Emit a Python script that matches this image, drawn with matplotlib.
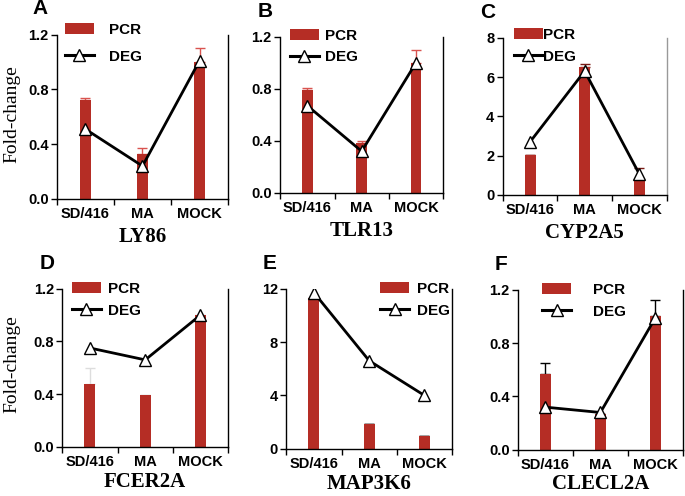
import matplotlib
matplotlib.use("Agg")
import matplotlib.pyplot as plt
from matplotlib.patches import Patch
from matplotlib.lines import Line2D

categories = ["SD/416", "MA", "MOCK"]

genes = ["LY86", "TLR13", "CYP2A5", "FCER2A", "MAP3K6", "CLECL2A"]
letters = ["A", "B", "C", "D", "E", "F"]

pcr_ly86 = [0.72, 0.33, 1.00]
err_ly86 = [0.02, 0.04, 0.10]
deg_ly86 = [0.51, 0.24, 1.01]

pcr_tlr13 = [0.79, 0.38, 1.00]
err_tlr13 = [0.015, 0.02, 0.10]
deg_tlr13 = [0.67, 0.32, 1.00]

pcr_cyp2a5 = [2.05, 6.50, 0.82]
err_cyp2a5 = [0.0, 0.15, 0.55]
deg_cyp2a5 = [2.70, 6.30, 1.07]

pcr_fcer2a = [0.48, 0.39, 1.00]
err_fcer2a = [0.12, 0.0, 0.0]
deg_fcer2a = [0.75, 0.66, 1.00]

pcr_map3k6 = [11.3, 1.85, 1.0]
err_map3k6 = [0.0, 0.0, 0.0]
deg_map3k6 = [11.7, 6.6, 4.0]

pcr_clecl2a = [0.57, 0.27, 1.00]
err_clecl2a = [0.08, 0.0, 0.12]
deg_clecl2a = [0.32, 0.28, 0.99]

pcr_all = [pcr_ly86, pcr_tlr13, pcr_cyp2a5, pcr_fcer2a, pcr_map3k6, pcr_clecl2a]
err_all = [err_ly86, err_tlr13, err_cyp2a5, err_fcer2a, err_map3k6, err_clecl2a]
deg_all = [deg_ly86, deg_tlr13, deg_cyp2a5, deg_fcer2a, deg_map3k6, deg_clecl2a]

y_max = [1.2, 1.2, 8, 1.2, 12, 1.2]
y_ticks = [[0.0, 0.4, 0.8, 1.2], [0.0, 0.4, 0.8, 1.2], [0, 2, 4, 6, 8],
           [0.0, 0.4, 0.8, 1.2], [0, 4, 8, 12], [0.0, 0.4, 0.8, 1.2]]
y_fmt = ["{:.1f}", "{:.1f}", "{:.0f}", "{:.1f}", "{:.0f}", "{:.1f}"]

# panel boxes in figure fraction: left, bottom, width, height
boxes = [
    (0.083, 0.599, 0.250, 0.331),
    (0.409, 0.611, 0.238, 0.315),
    (0.734, 0.607, 0.239, 0.317),
    (0.091, 0.099, 0.242, 0.319),
    (0.418, 0.095, 0.242, 0.323),
    (0.756, 0.093, 0.241, 0.323),
]
err_colors = ["#d9534f", "#d9534f", "#7a1a14", "#dddddd", "black", "black"]
right_colors = ["black", "black", "#999999", "black", "black", "black"]
legend_anchor = [(0.01, 1.11), (0.02, 1.09), (0.03, 1.10), (0.02, 1.08), (0.53, 1.08), (0.11, 1.08)]
legend_gap = [1.0, 0.4, 0.0, 0.5, 0.5, 1.4]
legend_spacing = [0.85, 0.5, 0.5, 0.5, 0.5, 0.5]
title_pad = [4, 4, 4, 2, 2, 1]

BAR = "#b52d25"
TICK_FONT = dict(family="Liberation Sans", weight="bold", size=10.5)

fig = plt.figure(figsize=(6.85, 4.96), dpi=100)

for i in range(6):
    ax = fig.add_axes(boxes[i])
    x = [0.5, 1.5, 2.5]
    ax.bar(x, pcr_all[i], width=0.2, color=BAR, zorder=2)
    ax.errorbar(x, pcr_all[i], yerr=[[0, 0, 0], err_all[i]], fmt="none",
                ecolor=err_colors[i], elinewidth=1, capsize=3.5, capthick=1, zorder=1)
    ax.plot(x, deg_all[i], color="black", linewidth=2, marker="^", markersize=9,
            markerfacecolor="white", markeredgecolor="black", markeredgewidth=1, zorder=3)

    ax.set_xlim(0, 3)
    ax.set_ylim(0, y_max[i])
    ax.set_xticks([0, 1, 2, 3])
    ax.set_xticklabels([])
    ax.set_xticks(x, minor=True)
    ax.set_xticklabels(categories, minor=True, fontdict=TICK_FONT)
    ax.tick_params(axis="x", which="minor", length=0, pad=6)
    ax.tick_params(axis="x", which="major", length=4, width=1)
    ax.set_yticks(y_ticks[i])
    ax.set_yticklabels([y_fmt[i].format(v) for v in y_ticks[i]], fontdict=TICK_FONT)
    ax.tick_params(axis="y", length=4, width=1, pad=2)

    ax.spines["top"].set_visible(False)
    ax.spines["right"].set_color(right_colors[i])
    for s in ["left", "bottom", "right"]:
        ax.spines[s].set_linewidth(1)

    ax.set_xlabel(genes[i], family="Liberation Serif", weight="bold", size=15,
                  labelpad=title_pad[i])
    ax.text(-0.14, 1.10, letters[i], transform=ax.transAxes, family="Liberation Sans",
            weight="bold", size=15, ha="left", va="bottom")

    handles = [
        Patch(facecolor=BAR, edgecolor="none"),
        Line2D([], [], color="black", linewidth=2.2, marker="^", markersize=8,
               markerfacecolor="white", markeredgecolor="black"),
    ]
    ax.legend(handles, ["PCR", "DEG"], loc="upper left", bbox_to_anchor=legend_anchor[i],
              frameon=False, prop=dict(family="Liberation Sans", weight="bold", size=11),
              handlelength=1.9, handleheight=0.75, handletextpad=legend_gap[i],
              labelspacing=legend_spacing[i], borderaxespad=0)

fig.text(0.018, 0.77, "Fold-change", rotation=90, family="Liberation Serif",
         size=14, ha="center", va="center")
fig.text(0.018, 0.265, "Fold-change", rotation=90, family="Liberation Serif",
         size=14, ha="center", va="center")

fig.savefig("out.png", dpi=100)
